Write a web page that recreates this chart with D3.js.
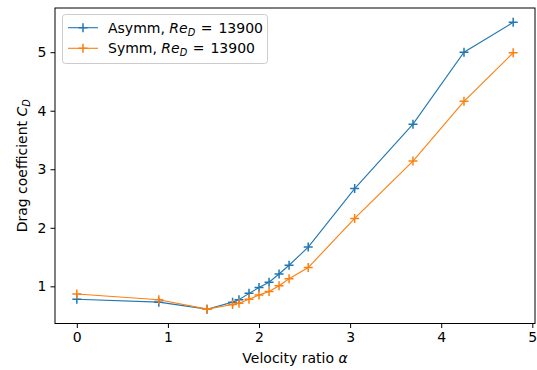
<!DOCTYPE html>
<html>
<head>
<meta charset="utf-8">
<script src="https://cdn.jsdelivr.net/npm/d3@7"></script>
<style>
  html, body { margin: 0; padding: 0; background: #fff; }
  svg { display: block; font-family: "DejaVu Sans", sans-serif; }
</style>
</head>
<body>
<svg id="chart" width="537" height="370"></svg>
<script>
// Velocity ratio alpha (shared by both configurations)
const alpha = [0, 0.9, 1.43, 1.71, 1.78, 1.89, 2.0, 2.11, 2.22, 2.33, 2.54, 3.05, 3.69, 4.25, 4.79];
// Drag coefficient, asymmetric configuration
const cdAsymm = [0.78, 0.73, 0.61, 0.73, 0.77, 0.88, 0.98, 1.07, 1.21, 1.36, 1.67, 2.67, 3.77, 5.0, 5.51];
// Drag coefficient, symmetric configuration
const cdSymm = [0.87, 0.77, 0.61, 0.69, 0.71, 0.78, 0.85, 0.91, 1.01, 1.13, 1.32, 2.16, 3.14, 4.16, 4.99];
const seriesNames = ["Asymm", "Symm"];
const reynolds = "13900";
const xTicks = [0, 1, 2, 3, 4, 5];
const yTicks = [1, 2, 3, 4, 5];

const colors = ["#1f77b4", "#ff7f0e"];
const svg = d3.select("#chart");
const fs = "14px";

const plot = { left: 55, right: 535, top: 8, bottom: 323.5 };

// Auto limits with 5% padding
function padded(vals) {
  const lo = d3.min(vals), hi = d3.max(vals), m = (hi - lo) * 0.05;
  return [lo - m, hi + m];
}
const x = d3.scaleLinear().domain(padded(alpha)).range([plot.left, plot.right]);
const y = d3.scaleLinear().domain(padded(cdAsymm.concat(cdSymm))).range([plot.bottom, plot.top]);

// Axes
const xAxis = svg.append("g")
  .attr("transform", `translate(0,${plot.bottom})`)
  .call(d3.axisBottom(x).tickValues(xTicks).tickFormat(d3.format("d")).tickSize(4.5).tickPadding(4));
const yAxis = svg.append("g")
  .attr("transform", `translate(${plot.left},0)`)
  .call(d3.axisLeft(y).tickValues(yTicks).tickFormat(d3.format("d")).tickSize(4.5).tickPadding(4));
[xAxis, yAxis].forEach(g => {
  g.select(".domain").remove();
  g.selectAll(".tick line").attr("stroke", "#000").attr("stroke-width", 1);
  g.selectAll(".tick text").attr("fill", "#000").style("font-size", fs)
    .style("font-family", "DejaVu Sans");
});

// Frame
svg.append("rect")
  .attr("x", plot.left).attr("y", plot.top)
  .attr("width", plot.right - plot.left).attr("height", plot.bottom - plot.top)
  .attr("fill", "none").attr("stroke", "#000").attr("stroke-width", 1);

// Series
const series = [cdAsymm, cdSymm];
const line = d3.line().x(d => x(d[0])).y(d => y(d[1]));
const ms = 4.5;
series.forEach((vals, i) => {
  const pts = alpha.map((a, k) => [a, vals[k]]);
  const g = svg.append("g");
  g.append("path").datum(pts)
    .attr("d", line).attr("fill", "none")
    .attr("stroke", colors[i]).attr("stroke-width", 1.1);
  g.selectAll("path.mk").data(pts).enter().append("path")
    .attr("class", "mk")
    .attr("d", d => `M${x(d[0]) - ms},${y(d[1])}H${x(d[0]) + ms}M${x(d[0])},${y(d[1]) - ms}V${y(d[1]) + ms}`)
    .attr("stroke", colors[i]).attr("stroke-width", 1.5).attr("fill", "none");
});

// Legend
const leg = svg.append("g");
leg.append("rect")
  .attr("x", 62.5).attr("y", 14.5).attr("width", 205).attr("height", 49)
  .attr("rx", 3).attr("fill", "#fff").attr("fill-opacity", 0.8)
  .attr("stroke", "#cccccc").attr("stroke-width", 1);
seriesNames.forEach((name, i) => {
  const cy = 27.7 + i * 20.6;
  leg.append("line").attr("x1", 68).attr("x2", 98).attr("y1", cy).attr("y2", cy)
    .attr("stroke", colors[i]).attr("stroke-width", 1.1);
  leg.append("path")
    .attr("d", `M${83 - ms},${cy}H${83 + ms}M83,${cy - ms}V${cy + ms}`)
    .attr("stroke", colors[i]).attr("stroke-width", 1.5);
  const t = leg.append("text").attr("x", 108).attr("y", cy + 5)
    .style("font-size", fs).attr("fill", "#000");
  t.append("tspan").text(name + ", ");
  t.append("tspan").style("font-style", "italic").text("Re");
  t.append("tspan").style("font-style", "italic").style("font-size", "9.8px").attr("dy", 2.8).text("D");
  t.append("tspan").attr("dy", -2.8).attr("dx", 5.5).text("=");
  t.append("tspan").attr("dx", 1.5).text(" " + reynolds);
});

// Axis labels
const xl = svg.append("text")
  .attr("x", (plot.left + plot.right) / 2).attr("y", 363)
  .attr("text-anchor", "middle").style("font-size", fs).attr("fill", "#000");
xl.append("tspan").text("Velocity ratio ");
xl.append("tspan").style("font-style", "italic").text("α");

const yl = svg.append("text")
  .attr("transform", `translate(27,${(plot.top + plot.bottom) / 2}) rotate(-90)`)
  .attr("text-anchor", "middle").style("font-size", fs).attr("fill", "#000");
yl.append("tspan").text("Drag coefficient ");
yl.append("tspan").style("font-style", "italic").text("C");
yl.append("tspan").style("font-style", "italic").style("font-size", "9.8px").attr("dy", 2.8).text("D");
</script>
</body>
</html>
